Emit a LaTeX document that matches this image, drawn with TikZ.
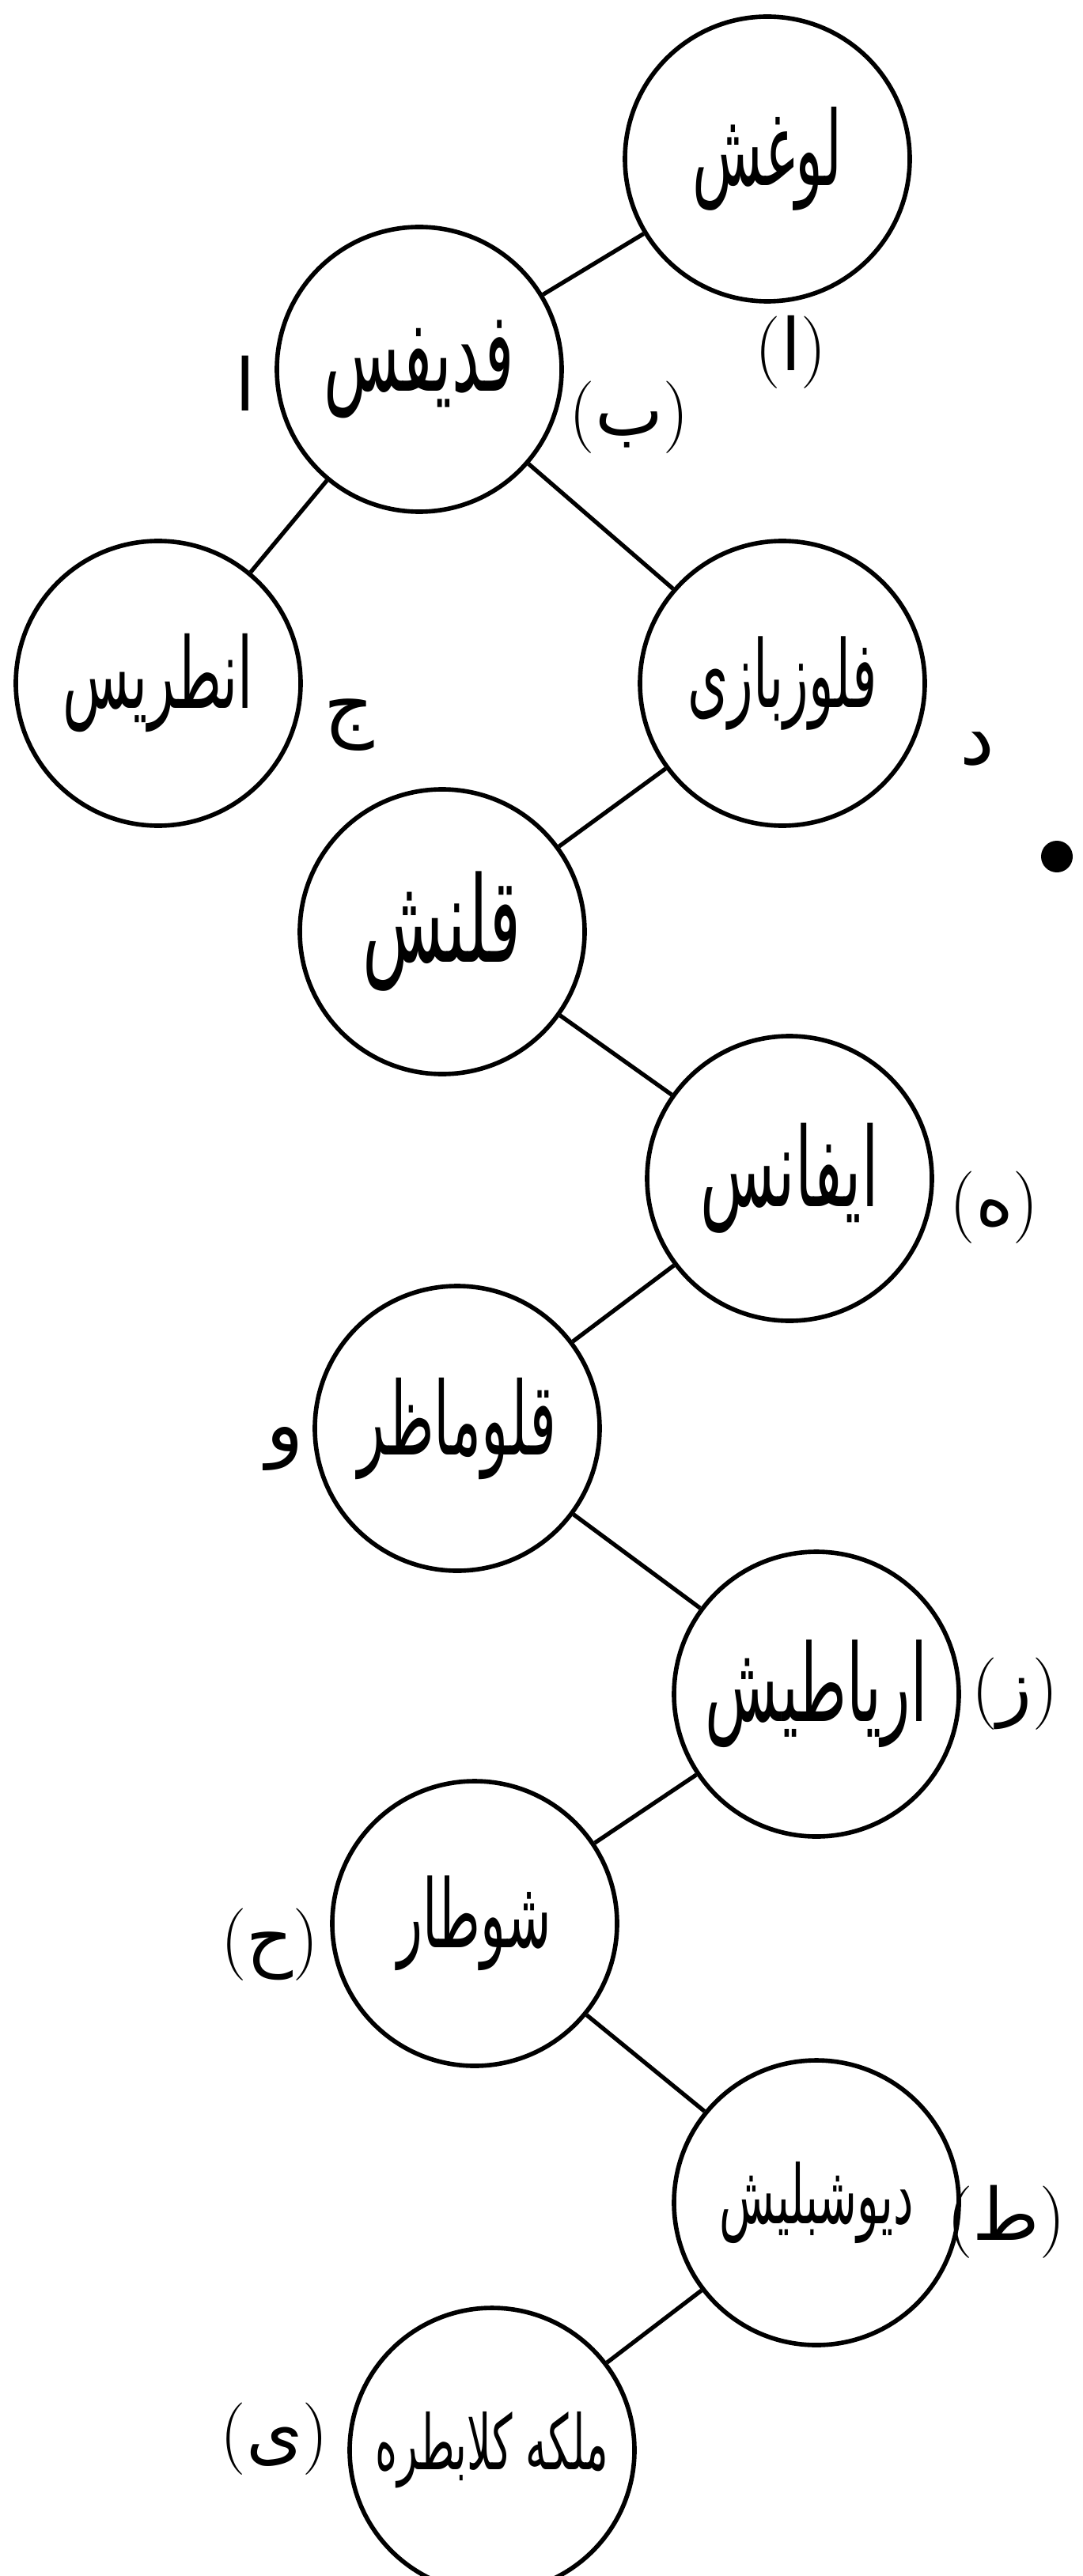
\documentclass[tikz,border=0pt]{standalone}
\usepackage{fontspec}
\newfontfamily\arabicfont[Script=Arabic]{DejaVu Sans}
\TeXXeTstate=1
\newcommand\urw[2]{\resizebox{#1}{!}{\scalebox{1}[1.8]{\arabicfont #2}}}
\newcommand\urc[1]{{\arabicfont #1}}
\begin{document}
\begin{tikzpicture}[
  nd/.style={circle, draw, line width=1.6pt, minimum size=3.6cm, inner sep=0pt},
  conn/.style={line width=1.5pt},
  lab/.style={inner sep=0pt, font=\fontsize{26}{30}\selectfont},
  labs/.style={inner sep=0pt, font=\fontsize{28}{32}\selectfont},
]
\useasboundingbox (0,0) rectangle (13.69,-32.57);
% nodes
\node[nd] (A) at (9.70,-2.01)  {\urw{1.9cm}{\beginR لوغش\endR}};
\node[nd] (B) at (5.30,-4.67)  {\urw{2.4cm}{\beginR فدیفس\endR}};
\node[nd] (C) at (2.00,-8.64)  {\urw{2.4cm}{\beginR انطریس\endR}};
\node[nd] (D) at (9.89,-8.64)  {\urw{2.4cm}{\beginR فلوزبازی\endR}};
\node[nd] (E) at (5.59,-11.78) {\urw{2.0cm}{\beginR قلنش\endR}};
\node[nd] (F) at (9.98,-14.90) {\urw{2.25cm}{\beginR ایفانس\endR}};
\node[nd] (G) at (5.78,-18.06) {\urw{2.5cm}{\beginR قلوماظر\endR}};
\node[nd] (H) at (10.32,-21.42) {\urw{2.8cm}{\beginR اریاطیش\endR}};
\node[nd] (I) at (6.00,-24.32) {\urw{1.95cm}{\beginR شوطار\endR}};
\node[nd] (J) at (10.32,-27.85) {\urw{2.45cm}{\beginR دیوشبلیش\endR}};
\node[nd] (K) at (6.22,-30.98) {\urw{2.95cm}{\beginR ملکه کلابطره\endR}};
% connectors
\draw[conn] (A) -- (B);
\draw[conn] (B) -- (C);
\draw[conn] (B) -- (D);
\draw[conn] (D) -- (E);
\draw[conn] (E) -- (F);
\draw[conn] (F) -- (G);
\draw[conn] (G) -- (H);
\draw[conn] (H) -- (I);
\draw[conn] (I) -- (J);
\draw[conn] (J) -- (K);
% labels
\node[lab] (la) at (10.00,-4.45) {(\urc{ا})};
\node[lab] (lb) at (3.10,-4.85) {\urc{ا}};
\node[lab] (lc) at (7.95,-5.28) {(\urc{ب})};
\node[labs] (ld) at (4.41,-9.17) {\urc{ج}};
\node[labs] (le) at (12.35,-9.47) {\urc{د}};
\node[lab] (lf) at (12.57,-15.27) {(\urc{ه})};
\node[labs] (lg) at (3.60,-18.32) {\urc{و}};
\node[lab] (lh) at (12.83,-21.42) {(\urc{ز})};
\node[lab] (li) at (3.41,-24.59) {(\urc{ح})};
\node[lab] (lj) at (12.72,-28.09) {(\urc{ط})};
\node[lab] (lk) at (3.47,-30.84) {(\urc{ی})};
% ink blot
\fill (13.36,-10.83) circle (0.2);
\end{tikzpicture}
\end{document}
